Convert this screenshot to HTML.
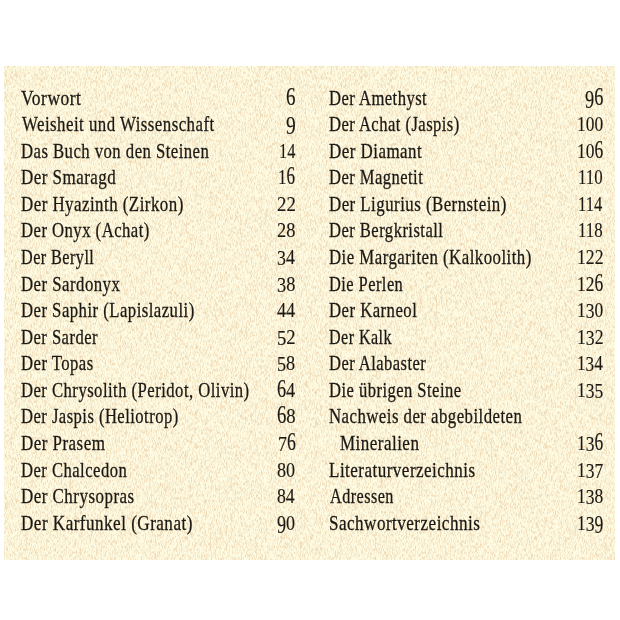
<!DOCTYPE html>
<html><head><meta charset="utf-8"><style>
html,body{margin:0;padding:0;background:#fff;width:620px;height:620px;overflow:hidden;position:relative}
.paper{position:absolute;left:4px;top:66px;width:611px;height:494px;background:#f9f2db}
.t{position:absolute;font-family:"Liberation Serif",serif;font-size:22px;line-height:30px;height:30px;color:#1c1814;-webkit-text-stroke:0.3px #1c1814;white-space:nowrap;transform-origin:0 0;letter-spacing:0.6px}
.t i{font-style:normal;display:inline-block}
.t i.a{transform:scaleY(1.15);transform-origin:50% 22.5px}
.t i.d{transform:scaleY(1.18);transform-origin:50% 8px}
.t i.e{transform:translateY(1.4px)}
.n{-webkit-text-stroke:0.15px #1c1814;letter-spacing:0}
</style></head><body>
<svg class="paper" width="611" height="494" viewBox="0 0 611 494"><defs><filter id="n" x="0" y="0" width="100%" height="100%" color-interpolation-filters="sRGB"><feTurbulence type="fractalNoise" baseFrequency="2.2 0.35" numOctaves="1" seed="3" result="t"/><feColorMatrix type="matrix" values="0 0 0 0 0  0 0 0 0 0  0 0 0 0 0  3 0 0 0 -1.3" in="t" result="a"/><feFlood flood-color="#edd6b2" result="f"/><feComposite in="f" in2="a" operator="in" result="sp"/><feFlood flood-color="#fefbe2" result="bg"/><feMerge><feMergeNode in="bg"/><feMergeNode in="sp"/></feMerge></filter></defs><rect width="611" height="494" filter="url(#n)"/></svg>
<div class="t" style="left:20.90px;top:82.60px;transform:scaleX(0.7960)">Vorwort</div>
<div class="t n" style="left:286.04px;top:82.60px;transform:scaleX(0.8649)"><i class="a">6</i></div>
<div class="t" style="left:22.00px;top:109.17px;transform:scaleX(0.7661)">Weisheit und Wissenschaft</div>
<div class="t n" style="left:286.04px;top:109.17px;transform:scaleX(0.8865)"><i class="d">9</i></div>
<div class="t" style="left:21.43px;top:135.74px;transform:scaleX(0.7598)">Das Buch von den Steinen</div>
<div class="t n" style="left:278.71px;top:135.74px;transform:scaleX(0.7443)">14</div>
<div class="t" style="left:21.42px;top:162.31px;transform:scaleX(0.7721)">Der Smaragd</div>
<div class="t n" style="left:278.45px;top:162.31px;transform:scaleX(0.7740)">1<i class="a">6</i></div>
<div class="t" style="left:21.42px;top:188.88px;transform:scaleX(0.7685)">Der Hyazinth (Zirkon)</div>
<div class="t n" style="left:277.14px;top:188.88px;transform:scaleX(0.8557)">22</div>
<div class="t" style="left:21.43px;top:215.45px;transform:scaleX(0.7593)">Der Onyx (Achat)</div>
<div class="t n" style="left:277.17px;top:215.45px;transform:scaleX(0.8346)">28</div>
<div class="t" style="left:21.45px;top:242.02px;transform:scaleX(0.7366)">Der Beryll</div>
<div class="t n" style="left:277.29px;top:242.02px;transform:scaleX(0.8096)"><i class="e">3</i>4</div>
<div class="t" style="left:21.43px;top:268.59px;transform:scaleX(0.7641)">Der Sardonyx</div>
<div class="t n" style="left:277.17px;top:268.59px;transform:scaleX(0.8346)"><i class="e">3</i>8</div>
<div class="t" style="left:21.43px;top:295.16px;transform:scaleX(0.7611)">Der Saphir (Lapislazuli)</div>
<div class="t n" style="left:276.89px;top:295.16px;transform:scaleX(0.8282)">44</div>
<div class="t" style="left:21.43px;top:321.73px;transform:scaleX(0.7562)">Der Sarder</div>
<div class="t n" style="left:277.34px;top:321.73px;transform:scaleX(0.8462)"><i class="e">5</i>2</div>
<div class="t" style="left:21.43px;top:348.30px;transform:scaleX(0.7594)">Der Topas</div>
<div class="t n" style="left:277.37px;top:348.30px;transform:scaleX(0.8250)"><i class="e">5</i>8</div>
<div class="t" style="left:21.43px;top:374.87px;transform:scaleX(0.7582)">Der Chrysolith (Peridot, Olivin)</div>
<div class="t n" style="left:276.87px;top:374.87px;transform:scaleX(0.8289)"><i class="a">6</i>4</div>
<div class="t" style="left:21.43px;top:401.44px;transform:scaleX(0.7554)">Der Jaspis (Heliotrop)</div>
<div class="t n" style="left:276.85px;top:401.44px;transform:scaleX(0.8494)"><i class="a">6</i>8</div>
<div class="t" style="left:21.42px;top:428.01px;transform:scaleX(0.7721)">Der Prasem</div>
<div class="t n" style="left:277.68px;top:428.01px;transform:scaleX(0.8101)"><i class="e">7</i><i class="a">6</i></div>
<div class="t" style="left:21.43px;top:454.58px;transform:scaleX(0.7568)">Der Chalcedon</div>
<div class="t n" style="left:277.38px;top:454.58px;transform:scaleX(0.8244)">80</div>
<div class="t" style="left:21.42px;top:481.15px;transform:scaleX(0.7724)">Der Chrysopras</div>
<div class="t n" style="left:277.40px;top:481.15px;transform:scaleX(0.8048)">84</div>
<div class="t" style="left:21.42px;top:507.72px;transform:scaleX(0.7780)">Der Karfunkel (Granat)</div>
<div class="t n" style="left:277.38px;top:507.72px;transform:scaleX(0.8244)"><i class="d">9</i>0</div>
<div class="t" style="left:329.43px;top:82.60px;transform:scaleX(0.7549)">Der Amethyst</div>
<div class="t n" style="left:584.67px;top:82.60px;transform:scaleX(0.8341)"><i class="d">9</i><i class="a">6</i></div>
<div class="t" style="left:329.43px;top:109.17px;transform:scaleX(0.7544)">Der Achat (Jaspis)</div>
<div class="t n" style="left:576.81px;top:109.17px;transform:scaleX(0.7934)">100</div>
<div class="t" style="left:329.42px;top:135.74px;transform:scaleX(0.7715)">Der Diamant</div>
<div class="t n" style="left:576.81px;top:135.74px;transform:scaleX(0.7934)">10<i class="a">6</i></div>
<div class="t" style="left:329.44px;top:162.31px;transform:scaleX(0.7530)">Der Magnetit</div>
<div class="t n" style="left:578.47px;top:162.31px;transform:scaleX(0.7658)">110</div>
<div class="t" style="left:329.42px;top:188.88px;transform:scaleX(0.7669)">Der Ligurius (Bernstein)</div>
<div class="t n" style="left:578.49px;top:188.88px;transform:scaleX(0.7529)">114</div>
<div class="t" style="left:329.43px;top:215.45px;transform:scaleX(0.7546)">Der Bergkristall</div>
<div class="t n" style="left:578.47px;top:215.45px;transform:scaleX(0.7658)">118</div>
<div class="t" style="left:329.43px;top:242.02px;transform:scaleX(0.7650)">Die Margariten (Kalkoolith)</div>
<div class="t n" style="left:576.79px;top:242.02px;transform:scaleX(0.8067)">122</div>
<div class="t" style="left:329.44px;top:268.59px;transform:scaleX(0.7468)">Die Perlen</div>
<div class="t n" style="left:576.81px;top:268.59px;transform:scaleX(0.7934)">12<i class="a">6</i></div>
<div class="t" style="left:329.43px;top:295.16px;transform:scaleX(0.7615)">Der Karneol</div>
<div class="t n" style="left:576.81px;top:295.16px;transform:scaleX(0.7934)">1<i class="e">3</i>0</div>
<div class="t" style="left:329.45px;top:321.73px;transform:scaleX(0.7316)">Der Kalk</div>
<div class="t n" style="left:576.79px;top:321.73px;transform:scaleX(0.8067)">1<i class="e">3</i>2</div>
<div class="t" style="left:329.44px;top:348.30px;transform:scaleX(0.7515)">Der Alabaster</div>
<div class="t n" style="left:576.84px;top:348.30px;transform:scaleX(0.7805)">1<i class="e">3</i>4</div>
<div class="t" style="left:329.43px;top:374.87px;transform:scaleX(0.7540)">Die übrigen Steine</div>
<div class="t n" style="left:576.81px;top:374.87px;transform:scaleX(0.7934)">1<i class="e">3</i><i class="e">5</i></div>
<div class="t" style="left:329.43px;top:401.44px;transform:scaleX(0.7634)">Nachweis der abgebildeten</div>
<div class="t" style="left:340.42px;top:428.01px;transform:scaleX(0.7742)">Mineralien</div>
<div class="t n" style="left:576.81px;top:428.01px;transform:scaleX(0.7934)">1<i class="e">3</i><i class="a">6</i></div>
<div class="t" style="left:329.42px;top:454.58px;transform:scaleX(0.7754)">Literaturverzeichnis</div>
<div class="t n" style="left:576.81px;top:454.58px;transform:scaleX(0.7934)">1<i class="e">3</i><i class="e">7</i></div>
<div class="t" style="left:329.82px;top:481.15px;transform:scaleX(0.7368)">Adressen</div>
<div class="t n" style="left:576.81px;top:481.15px;transform:scaleX(0.7934)">1<i class="e">3</i>8</div>
<div class="t" style="left:328.83px;top:507.72px;transform:scaleX(0.7771)">Sachwortverzeichnis</div>
<div class="t n" style="left:576.80px;top:507.72px;transform:scaleX(0.8000)">1<i class="e">3</i><i class="d">9</i></div>
</body></html>
